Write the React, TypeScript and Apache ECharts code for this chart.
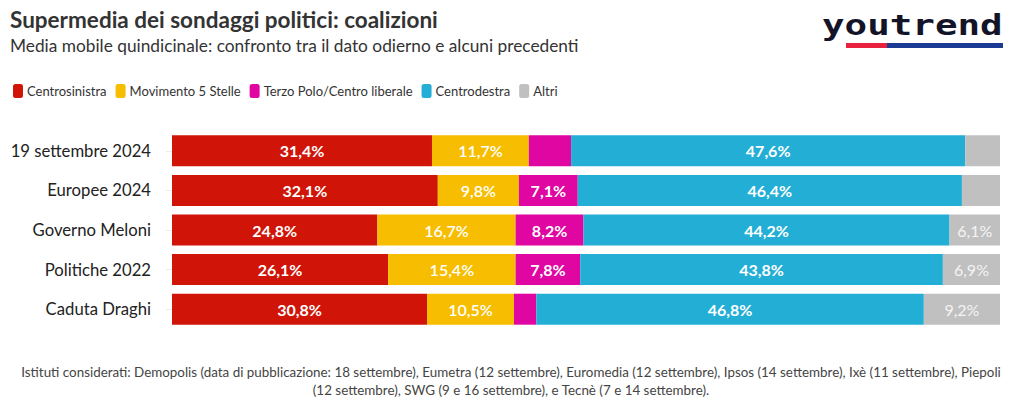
import React, { useEffect, useRef } from "react";
import * as echarts from "echarts";

const categories = ["19 settembre 2024", "Europee 2024", "Governo Meloni", "Politiche 2022", "Caduta Draghi"];
const seriesNames = ["Centrosinistra", "Movimento 5 Stelle", "Terzo Polo/Centro liberale", "Centrodestra", "Altri"];
const centrosinistra = [31.4, 32.1, 24.8, 26.1, 30.8];
const m5s = [11.7, 9.8, 16.7, 15.4, 10.5];
const terzoPolo = [5.1, 7.1, 8.2, 7.8, 2.7];
const centrodestra = [47.6, 46.4, 44.2, 43.8, 46.8];
const altri = [4.2, 4.6, 6.1, 6.9, 9.2];
const colors = ["#d01407", "#f7bd00", "#e006a2", "#22aed5", "#c0c0c0"];

const FONT = "Lato, 'Noto Sans', sans-serif";

export default function App() {
  const ref = useRef<HTMLDivElement>(null);
  useEffect(() => {
    if (!ref.current) return;
    const chart = echarts.init(ref.current, null, { renderer: "svg" });
    const dataSets = [centrosinistra, m5s, terzoPolo, centrodestra, altri];
    const series = dataSets.map((d, i) => ({
      name: seriesNames[i],
      type: "bar",
      stack: "tot",
      barWidth: 31,
      data: d,
      itemStyle: { color: colors[i] },
      label: {
        show: true,
        position: "inside",
        color: i === 4 ? "#f4f4f4" : "#ffffff",
        fontFamily: FONT,
        fontSize: 16,
        fontWeight: i === 4 ? "normal" : i === 1 ? 600 : "bold",
        formatter: (p: any) => (p.value < 6 ? "" : p.value.toFixed(1).replace(".", ",") + "%"),
      },
    }));
    chart.setOption({
      animation: false,
      textStyle: { fontFamily: FONT },
      legend: {
        left: 8,
        top: 79,
        itemWidth: 10,
        itemHeight: 14,
        itemGap: 9,
        icon: "roundRect",
        textStyle: { fontSize: 13, color: "#333", fontFamily: FONT, padding: [0, 0, 0, -1] },
        data: seriesNames,
      },
      grid: { left: 172, right: 20, top: 131, height: 198 },
      xAxis: { type: "value", min: 0, max: 100, show: false },
      yAxis: {
        type: "category",
        data: categories,
        inverse: true,
        axisLine: { show: false },
        axisTick: { show: true, alignWithLabel: true, length: 6, lineStyle: { color: "#ececec" } },
        axisLabel: { fontSize: 16.7, color: "#222", margin: 21, fontFamily: FONT },
      },
      series,
      graphic: [
        {
          type: "text",
          left: 10,
          top: 8,
          style: { text: "Supermedia dei sondaggi politici: coalizioni", fontSize: 22.5, fontWeight: "bold", fill: "#333", fontFamily: FONT },
        },
        {
          type: "text",
          left: 10,
          top: 37,
          style: { text: "Media mobile quindicinale: confronto tra il dato odierno e alcuni precedenti", fontSize: 17.3, fill: "#333", fontFamily: FONT },
        },
        {
          type: "text",
          x: 822,
          y: 11,
          scaleX: 1.34,
          style: { text: "youtrend", fontSize: 28, fontWeight: "bold", fill: "#141428", fontFamily: "'DejaVu Sans Mono', monospace" },
        },
        { type: "rect", shape: { x: 846, y: 43, width: 41, height: 5 }, style: { fill: "#e8213f" } },
        { type: "rect", shape: { x: 887, y: 43, width: 116, height: 5 }, style: { fill: "#1b3a94" } },
        {
          type: "text",
          x: 511,
          y: 363,
          style: {
            text:
              "Istituti considerati: Demopolis (data di pubblicazione: 18 settembre), Eumetra (12 settembre), Euromedia (12 settembre), Ipsos (14 settembre), Ixè (11 settembre), Piepoli\n(12 settembre), SWG (9 e 16 settembre), e Tecnè (7 e 14 settembre).",
            fontSize: 13.4,
            lineHeight: 18,
            fill: "#444",
            align: "center",
            fontFamily: FONT,
          },
        },
      ],
    });
    return () => chart.dispose();
  }, []);
  return <div ref={ref} style={{ width: 1020, height: 407, position: "absolute", left: 0, top: 0 }} />;
}
